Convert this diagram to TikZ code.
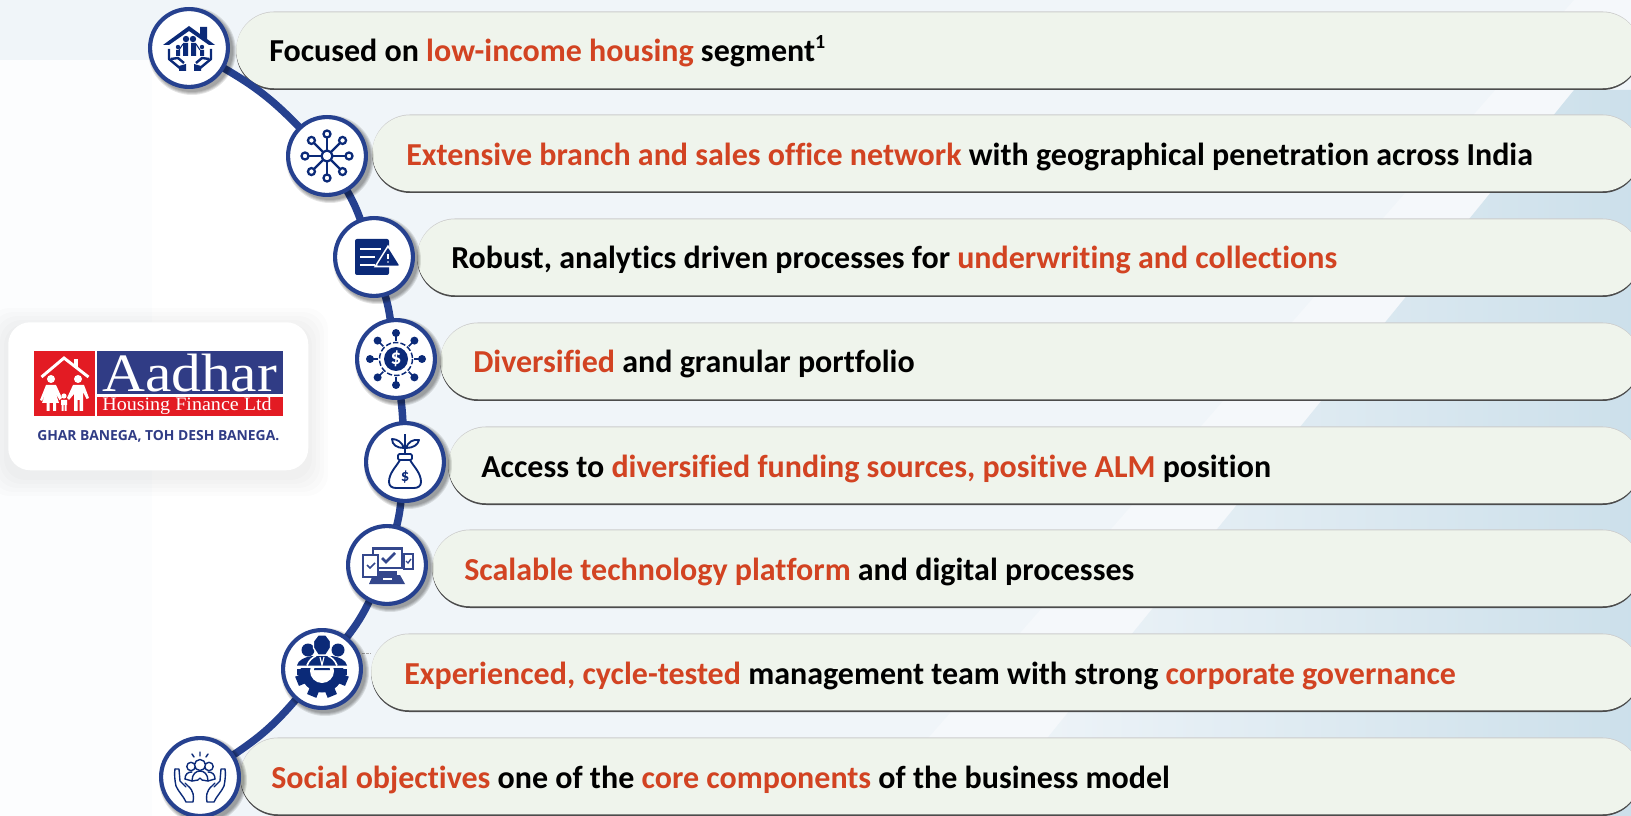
\documentclass[tikz,border=0pt]{standalone}
\usepackage{fontspec}
\usepackage{graphicx}
\setmainfont[Ligatures=NoCommon]{Carlito}
\newfontfamily\logoserif{Liberation Serif}
\newfontfamily\logosans{Open Sans}
\usetikzlibrary{calc}
\definecolor{ringblue}{HTML}{26418F}
\definecolor{iconblue}{HTML}{0B2A78}
\definecolor{iconmid}{HTML}{34478C}
\definecolor{hlred}{HTML}{D24322}
\definecolor{pillfill}{HTML}{EFF4EC}
\definecolor{bgpale}{HTML}{F0F5F9}
\definecolor{bgblue}{HTML}{CBDFEA}
\definecolor{logored}{HTML}{E31B23}
\definecolor{logoblue}{HTML}{303C85}
\newcommand{\hl}[1]{\textcolor{hlred}{#1}}
\newcommand{\supone}{\raisebox{0.42em}{\fontsize{15}{15}\selectfont 1}}
\pgfdeclarelayer{back}
\pgfsetlayers{back,main}
\tikzset{
  x=0.75pt,y=-0.75pt,
  pillbox/.style={anchor=north west,rectangle,rounded corners=28.5pt,minimum height=57pt,inner sep=0pt,fill=pillfill,
    preaction={fill=black!70,transform canvas={yshift=-1.3pt}},
    preaction={fill=black!20,transform canvas={yshift=0.6pt}}},
  lbl/.style={anchor=base west,inner sep=0pt,font=\fontsize{24}{28}\selectfont\bfseries},
  ringnode/.style={circle,draw=ringblue,line width=3.1pt,fill=white,minimum size=58.4pt,inner sep=0pt},
  spine/.style={draw=ringblue,line width=5.6pt,shorten <=-3pt,shorten >=-3pt},
}
\newcommand{\iconhouse}{%
  \fill[iconblue] (-26,-3)--(0,-22)--(11,-14)--(11,-21)--(18,-21)--(18,-9)--(26,-3)--(20,-3)--(0,-17)--(-20,-3)--cycle;
  \fill[iconblue] (-3,-9) circle[radius=3.2] (4,-9) circle[radius=3.2] (-11,-1) circle[radius=2.2] (13,-1) circle[radius=2.2];
  \fill[iconblue] (-6,-5) rectangle (-1,8) (2,-5) rectangle (7,8) (-13,2) rectangle (-9,8) (11,2) rectangle (15,8);
  \draw[iconblue,line width=0.8pt] (-6,-4)--(-10,2) (7,-4)--(11,2);
  \draw[iconblue,line width=1.8pt,line join=round] (-20,1)--(-20,11)--(-8,21) (-18,11)--(-11,10)--(-5,15);
  \draw[iconblue,line width=1.8pt,line join=round] (22,1)--(22,11)--(10,21) (20,11)--(13,10)--(7,15);
  \fill[iconblue] (-10,18)--(-3,16)--(-3,23)--(-10,23)--cycle (5,16)--(12,18)--(12,23)--(5,23)--cycle;
}
\newcommand{\iconnet}{%
  \foreach \a in {0,45,...,315}{
    \draw[iconblue,line width=1.7pt] (0,0)--(\a:18.5);
    \draw[iconblue,line width=1.7pt,fill=white] (\a:22) circle[radius=3.5];
  }
  \draw[iconblue,line width=1.7pt,fill=white] (0,0) circle[radius=5.5];
}
\newcommand{\icondoc}{%
  \fill[iconblue,rounded corners=1.5pt] (-19,-18) rectangle (15,18);
  \draw[white,line width=1.5pt] (-14,-8)--(7,-8) (-14,0)--(1,0) (-14,8)--(1,8);
  \draw[iconblue,fill=iconblue,line width=1pt,line join=round,preaction={draw=white,line width=3.4pt}] (14,-8)--(24,8)--(4,8)--cycle;
  \draw[white,line width=1.4pt] (14,-3)--(14,2.5);
  \fill[white] (14,5) circle[radius=0.9];
}
\newcommand{\iconcoin}{%
  \fill[iconblue] (0,0) circle[radius=12];
  \draw[iconblue,line width=1.1pt,dash pattern=on 4pt off 1.6pt] (0,0) circle[radius=16.5];
  \foreach \a in {0,45,...,315}{
    \draw[iconblue,line width=1.1pt] (\a:18)--(\a:26);
    \fill[iconblue] (\a:26) circle[radius=4];
  }
  \node[text=white,inner sep=0pt,font=\fontsize{16}{16}\selectfont\bfseries] (coin) at (0,0) {\$};
}
\newcommand{\iconbag}{%
  \draw[iconblue,line width=1.4pt,line join=round] (-5,-2) .. controls (-9,5) and (-16,11) .. (-16,20) .. controls (-16,24) and (-13,26) .. (-9,26) -- (9,26) .. controls (13,26) and (16,24) .. (16,20) .. controls (16,11) and (9,5) .. (5,-2) -- cycle;
  \draw[iconblue,line width=1.4pt,rounded corners=1pt] (-7,-8) rectangle (7,-2);
  \draw[iconblue,line width=1.4pt] (0,-28)--(0,-8);
  \draw[iconblue,line width=1.4pt,line join=round] (-1,-14) .. controls (-3,-20) and (-8,-23) .. (-13,-23) .. controls (-13,-17) and (-8,-14) .. (-1,-14) -- cycle;
  \draw[iconblue,line width=1.4pt,line join=round] (1,-14) .. controls (3,-20) and (8,-23) .. (14,-22) .. controls (13,-17) and (8,-14) .. (1,-14) -- cycle;
  \node[text=iconblue,inner sep=0pt,font=\fontsize{12.5}{12.5}\selectfont\bfseries] (bagsign) at (0,15) {\$};
}
\newcommand{\icontech}{%
  \draw[iconmid,line width=1.7pt,fill=white] (-14,-17) rectangle (15,3);
  \fill[iconmid] (-14,-17) rectangle (15,-15);
  \draw[iconmid,line width=2pt] (-5,-7)--(-1,-3)--(8,-12);
  \fill[iconmid] (-14,10)--(13,10)--(18,19)--(-18,19)--cycle;
  \fill[iconmid] (-10,6) rectangle (10,10);
  \fill[white] (-4,13) rectangle (5,15);
  \draw[iconmid,line width=1.4pt,fill=white] (-24,-10) rectangle (-9,12);
  \draw[iconmid,line width=1.2pt] (-20,0)--(-17,3)--(-12,-2);
  \draw[iconmid,line width=1.2pt,fill=white] (17,-11) rectangle (26,4);
  \draw[iconmid,line width=1pt] (19,-4)--(21,-2)--(24,-6);
}
\newcommand{\icongear}{%
  \begin{scope}
    \clip (-34,-1) rectangle (34,34);
    \foreach \a in {0,45,...,315}{ \fill[iconblue,shift={(0,2)},rotate=\a+22.5] (-5,-27) rectangle (5,-18); }
    \fill[iconblue] (0,2) circle[radius=21.5];
    \fill[iconblue] (-25,0) rectangle (25,6);
    \fill[white] (0,2) circle[radius=12];
    \fill[iconblue] (-8,1) -- (8,1) arc[start angle=0,end angle=-180,radius=8] -- cycle;
  \end{scope}
  \fill[iconblue] (-25,-3.5) .. controls (-24,-9) and (-17,-12) .. (-10,-13) -- (10,-13) .. controls (17,-12) and (24,-9) .. (25,-3.5) -- cycle;
  \draw[white,line width=1.2pt] (-15,-3.5) .. controls (-13,-9) and (-9,-12) .. (-6,-13) (15,-3.5) .. controls (13,-9) and (9,-12) .. (6,-13);
  \fill[iconblue] (-14,-19) circle[radius=6.5] (16,-19) circle[radius=6.5];
  \draw[white,line width=1pt,fill=iconblue] (-8.5,-28)--(-4,-34)--(4,-34)--(8.5,-28)--(8.5,-21)--(4,-14)--(-4,-14)--(-8.5,-21)--cycle;
  \draw[white,line width=0.9pt] (-2,-12)--(0,-4)--(2,-12);
}
\newcommand{\iconcare}{%
  \begin{scope}[iconblue,line width=1.05pt,line join=round,line cap=round]
    \draw (0,-25)--(0,-21) (-8,-23)--(-6,-20) (8,-23)--(6,-20);
    \draw (0,-12) circle[radius=5.5] (-9,-10.5) circle[radius=4.2] (9,-10.5) circle[radius=4.2];
    \draw (-15,2) .. controls (-15,-3) and (-12,-5) .. (-8,-5) (15,2) .. controls (15,-3) and (12,-5) .. (8,-5);
    \draw (-8,4) .. controls (-8,-3) and (-4,-6) .. (0,-6) .. controls (4,-6) and (8,-3) .. (8,4);
    \draw (-15,2)--(-8,4)--(-2,3)--(0,1)--(2,3)--(8,4)--(15,2);
    \draw (-25,-8) .. controls (-26,-4) and (-25,5) .. (-24,9) .. controls (-22,14) and (-16,20) .. (-14,25)--(-7,25) .. controls (-6,20) and (-6,14) .. (-12,9) -- (-15,6);
    \draw (-25,-8)--(-21,-8)--(-20,4)--(-14,10);
    \draw (25,-8) .. controls (26,-4) and (25,5) .. (24,9) .. controls (22,14) and (16,20) .. (14,25)--(7,25) .. controls (6,20) and (6,14) .. (12,9) -- (15,6);
    \draw (25,-8)--(21,-8)--(20,4)--(14,10);
  \end{scope}
}
\begin{document}
\begin{tikzpicture}
\useasboundingbox (0,0) rectangle (1631,816);
\begin{pgfonlayer}{back}
  % background
  \fill[bgpale] (0,0) rectangle (1631,816);
  \fill[white!80!bgpale] (0,60) rectangle (152,816);
  \fill[white] (152,59) -- (189,59) -- (189,48) to[bend left=8] (327,156) to[bend left=5] (374,257) to[bend left=4] (396,359) to[bend left=2] (405,462) to[bend left=4] (387,565) to[bend left=6] (322,669) to[bend left=8] (200,777) -- (180,816) -- (152,816) -- cycle;
  \fill[white!30!bgpale] (1574,0) -- (1660,0) -- (1100,816) -- (860,816) -- cycle;
  \shade[left color=bgpale,right color=bgblue] (1655,0) -- (1631,0) -- (1631,90) -- (1574,90) -- (1057,726) -- (985,816) -- (1631,816) -- cycle;
  % logo card
  \foreach \g in {20,16,12,8,4}{
    \fill[black,opacity=0.012,rounded corners=16pt] (8-\g,322-\g+6) rectangle (308+\g,470+\g+6);
  }
  \node[anchor=north west,rectangle,fill=white,rounded corners=16.5pt,minimum width=225pt,minimum height=111pt,inner sep=0pt] (card) at (8,322) {};
  \node[anchor=north west,rectangle,fill=logored,minimum width=45.75pt,minimum height=48.75pt,inner sep=0pt] (logosq) at (34,351) {};
  \node[anchor=north west,rectangle,fill=logoblue,minimum width=139.5pt,minimum height=32.25pt,inner sep=0pt] (logoname) at (97,351) {};
  \node[anchor=north west,rectangle,fill=logored,minimum width=139.5pt,minimum height=14.25pt,inner sep=0pt] (logosub) at (97,397) {};
  \draw[white,line width=2.2pt,line join=miter] (41.5,377) -- (64,358) -- (88.5,377);
  \fill[white] (74,359) rectangle (78,367);
  \fill[white] (51,379) circle[radius=4] (78,379) circle[radius=4] (64,396) circle[radius=2.6];
  \fill[white] (46,385) -- (56,385) -- (62,398) -- (59.5,400) -- (56,394) -- (59,403) -- (56,403) -- (56,411) -- (53,411) -- (53,403) -- (49.5,403) -- (49.5,411) -- (46.5,411) -- (46.5,403) -- (42,403) -- (46,392) -- (42,401) -- (40,400) -- cycle;
  \fill[white] (73,385) -- (84,385) -- (89,398) -- (86.5,399) -- (83,392) -- (83,411) -- (79.5,411) -- (79.5,400) -- (77.5,400) -- (77.5,411) -- (74,411) -- (74,394) -- (69,400) -- (67,398) -- cycle;
  \fill[white] (61,400) rectangle (67,405) (61.5,405) rectangle (63.5,411) (64.5,405) rectangle (66.5,411);
  \node[anchor=base west,inner sep=0pt,text=white,font=\logoserif\fontsize{40.5}{40.5}\selectfont] (logotext) at (102,392) {\scalebox{1.1}[1]{Aadhar}};
  \node[anchor=base west,inner sep=0pt,text=white,font=\logoserif\fontsize{14.2}{14.2}\selectfont] (logosubt) at (102,411) {\scalebox{1.06}[1]{Housing Finance Ltd}};
  \node[anchor=base west,inner sep=0pt,text=logoblue,font=\logosans\bfseries\fontsize{10}{10}\selectfont] (tag) at (37,440) {\resizebox{181.5pt}{!}{GHAR BANEGA, TOH DESH BANEGA.}};
  % pills
  \foreach \n/\l/\t in {1/236/12,2/372/115,3/417/219,4/440/323,5/448/427,6/432/530,7/371/634,8/240/738}{
    \pgfmathsetlengthmacro{\w}{(1640-\l)*0.75pt}
    \node[pillbox,minimum width=\w] (p\n) at (\l,\t) {};
  }
  \node[lbl] (t1) at (269,62) {Focused on \hl{low-income housing} segment\supone};
  \node[lbl] (t2) at (406,166) {\hl{Extensive branch and sales office network} with geographical penetration across India};
  \node[lbl] (t3) at (451,269) {Robust, analytics driven processes for \hl{underwriting and collections}};
  \node[lbl] (t4) at (473,373) {\hl{Diversified} and granular portfolio};
  \node[lbl] (t5) at (481,477) {Access to \hl{diversified funding sources, positive ALM} position};
  \node[lbl] (t6) at (464,580) {\hl{Scalable technology platform} and digital processes};
  \node[lbl] (t7) at (404,684) {\hl{Experienced, cycle-tested} management team with strong \hl{corporate governance}};
  \node[lbl] (t8) at (271,788) {\hl{Social objectives} one of the \hl{core components} of the business model};
\end{pgfonlayer}
% circles with soft shadows
\foreach \n/\cx/\cy in {1/189/48,2/327/156,3/374/257,4/396/359,5/405/462,6/387/565,7/322/669,8/200/777}{
  \foreach \r in {44,43,42,41}{
    \fill[black,opacity=0.10] (\cx+3,\cy+3) circle[radius=\r];
  }
  \node[ringnode] (c\n) at (\cx,\cy) {};
}
\begin{scope}[shift={(c1.center)}]\iconhouse\end{scope}
\begin{scope}[shift={(c2.center)}]\iconnet\end{scope}
\begin{scope}[shift={(c3.center)}]\icondoc\end{scope}
\begin{scope}[shift={(c4.center)}]\iconcoin\end{scope}
\begin{scope}[shift={(c5.center)}]\iconbag\end{scope}
\begin{scope}[shift={(c6.center)}]\icontech\end{scope}
\begin{scope}[shift={(c7.center)}]\icongear\end{scope}
\begin{scope}[shift={(c8.center)}]\iconcare\end{scope}
\begin{pgfonlayer}{back}
  \draw[spine] (c1) to[bend left=8] (c2);
  \draw[spine] (c2) to[bend left=5] (c3);
  \draw[spine] (c3) to[bend left=4] (c4);
  \draw[spine] (c4) to[bend left=2] (c5);
  \draw[spine] (c5) to[bend left=4] (c6);
  \draw[spine] (c6) to[bend left=6] (c7);
  \draw[spine] (c7) to[bend left=8] (c8);
  \coordinate (d1) at (362,653);
  \coordinate (d2) at (p7.west |- d1);
  \draw[black!35,line width=0.5pt,dash pattern=on 2pt off 1pt] (d1) -- (d2);
\end{pgfonlayer}
\end{tikzpicture}
\end{document}
